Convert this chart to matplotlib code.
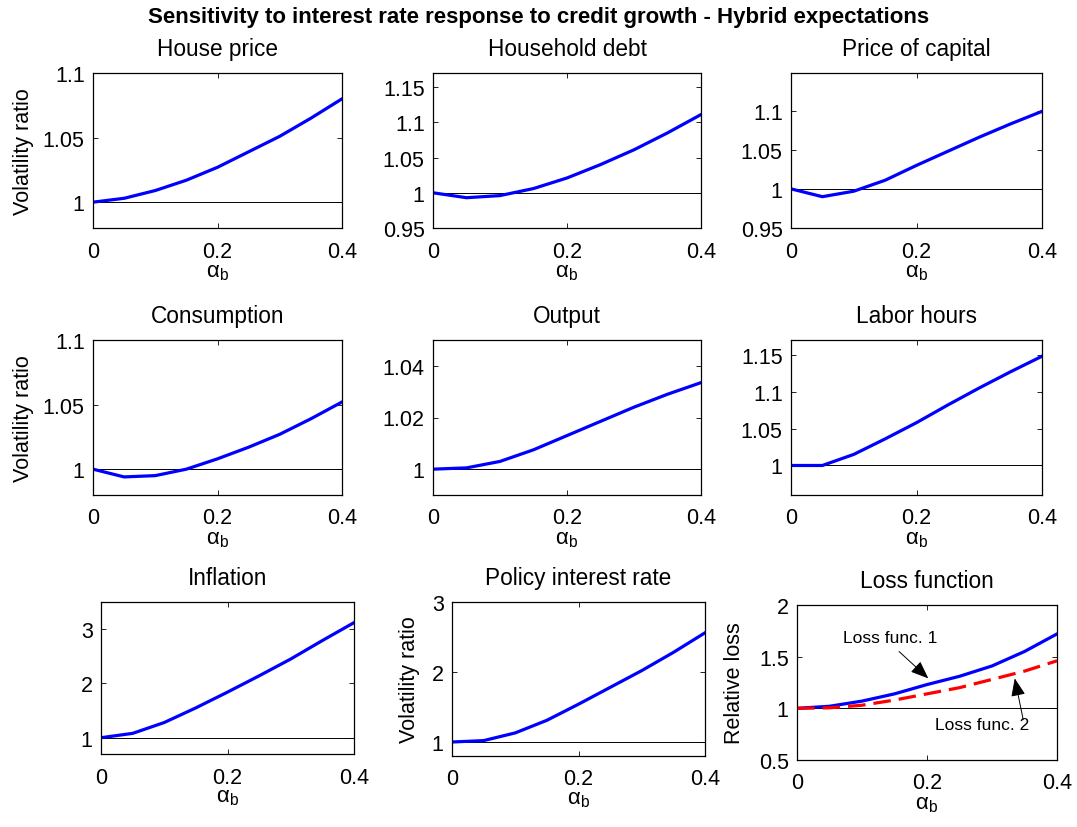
import matplotlib
matplotlib.use('Agg')
import matplotlib.pyplot as plt
from matplotlib.ticker import FuncFormatter
from matplotlib.patches import ArrowStyle

plt.rcParams['font.family'] = ['Liberation Sans', 'DejaVu Sans']
plt.rcParams['mathtext.fontset'] = 'custom'
plt.rcParams['mathtext.rm'] = 'Liberation Sans'
plt.rcParams['mathtext.it'] = 'Liberation Sans:italic'
plt.rcParams['mathtext.default'] = 'regular'

# alpha_b grid
alpha_b = [0.0, 0.05, 0.1, 0.15, 0.2, 0.25, 0.3, 0.35, 0.4]

# volatility ratios
house_price = [1.000, 1.003, 1.009, 1.017, 1.027, 1.039, 1.051, 1.065, 1.080]
household_debt = [1.000, 0.993, 0.996, 1.006, 1.021, 1.040, 1.061, 1.085, 1.111]
price_capital = [1.000, 0.990, 0.997, 1.011, 1.030, 1.048, 1.066, 1.083, 1.099]
consumption = [1.000, 0.994, 0.995, 1.000, 1.008, 1.017, 1.027, 1.039, 1.052]
output = [1.000, 1.0005, 1.003, 1.0075, 1.013, 1.0185, 1.024, 1.029, 1.0335]
labor_hours = [1.000, 1.000, 1.015, 1.036, 1.058, 1.082, 1.105, 1.127, 1.148]
inflation = [1.00, 1.08, 1.28, 1.55, 1.84, 2.14, 2.45, 2.79, 3.12]
policy_rate = [1.00, 1.02, 1.13, 1.31, 1.54, 1.78, 2.02, 2.28, 2.56]

# relative losses
loss_func1 = [1.00, 1.02, 1.07, 1.14, 1.23, 1.31, 1.41, 1.55, 1.72]
loss_func2 = [1.00, 1.005, 1.03, 1.08, 1.14, 1.20, 1.28, 1.36, 1.46]

titles = ['House price', 'Household debt', 'Price of capital',
          'Consumption', 'Output', 'Labor hours',
          'Inflation', 'Policy interest rate', 'Loss function']
series = [house_price, household_debt, price_capital,
          consumption, output, labor_hours,
          inflation, policy_rate, loss_func1]

# axis limits and ticks per panel
ylims = [(0.98, 1.1), (0.95, 1.17), (0.95, 1.148),
         (0.98, 1.1), (0.99, 1.05), (0.96, 1.17),
         (0.7, 3.5), (0.8, 3.0), (0.5, 2.0)]
yticks = [[1, 1.05, 1.1], [0.95, 1, 1.05, 1.1, 1.15], [0.95, 1, 1.05, 1.1],
          [1, 1.05, 1.1], [1, 1.02, 1.04], [1, 1.05, 1.1, 1.15],
          [1, 2, 3], [1, 2, 3], [0.5, 1, 1.5, 2]]
ylabels = ['Volatility ratio', '', '', 'Volatility ratio', '', '',
           '', 'Volatility ratio', 'Relative loss']

W, H = 1077, 828
# axes boxes in pixels: left, right, top, bottom
boxes = [(93, 342, 74, 229), (433, 701, 74, 229), (791, 1042, 74, 229),
         (93, 342, 341, 496), (433, 701, 341, 496), (791, 1042, 341, 496),
         (101, 354, 603, 755), (452, 705, 603, 757), (797, 1057, 606, 761)]
ylabel_x = [-0.235, 0, 0, -0.235, 0, 0, 0, -0.126, -0.2]

fig = plt.figure(figsize=(W / 100, H / 100), dpi=100)
fmt = FuncFormatter(lambda v, p: '%g' % v)

axes = []
for i in range(9):
    l, r, t, b = boxes[i]
    ax = fig.add_axes([l / W, 1 - b / H, (r - l) / W, (b - t) / H])
    ax.plot([0, 0.4], [1, 1], color='k', lw=0.7)
    ax.plot(alpha_b, series[i], color=(0, 0, 1), lw=2.3)
    ax.set_xlim(0, 0.4)
    ax.set_ylim(ylims[i])
    ax.set_xticks([0, 0.2, 0.4])
    ax.set_yticks(yticks[i])
    ax.xaxis.set_major_formatter(fmt)
    ax.yaxis.set_major_formatter(fmt)
    ax.tick_params(direction='in', top=True, right=True, length=3.5, width=0.6,
                   labelsize=15.5, pad=6)
    ax.tick_params(axis='x', pad=9)
    for s in ax.spines.values():
        s.set_linewidth(0.9)
    ax.set_title(titles[i], fontsize=16.3, pad=13)
    ax.set_xlabel(r'$\alpha_b$', fontsize=16)
    ax.xaxis.set_label_coords(0.5, -0.21)
    if ylabels[i]:
        ax.set_ylabel(ylabels[i], fontsize=15.5)
        ax.yaxis.set_label_coords(ylabel_x[i], 0.5)
    axes.append(ax)

ax = axes[8]
ax.plot(alpha_b, loss_func2, color=(1, 0, 0), lw=2.3, ls=(0, (5.5, 2.5)))

head = ArrowStyle('-|>', head_length=0.55, head_width=0.22)
ax.text(0.071, 1.69, 'Loss func. 1', fontsize=12.5, va='center', ha='left')
ax.annotate('', xy=(0.202, 1.29), xytext=(0.157, 1.55),
            arrowprops=dict(arrowstyle=head, color='k', lw=0.7,
                            mutation_scale=20, shrinkA=0, shrinkB=0))
ax.text(0.212, 0.84, 'Loss func. 2', fontsize=12.5, va='center', ha='left')
ax.annotate('', xy=(0.335, 1.29), xytext=(0.348, 0.89),
            arrowprops=dict(arrowstyle=head, color='k', lw=0.7,
                            mutation_scale=20, shrinkA=0, shrinkB=0))

fig.text(0.5, 1 - 17 / H, 'Sensitivity to interest rate response to credit growth - Hybrid expectations',
         ha='center', va='center', fontsize=16, fontweight='bold')

fig.savefig('out.png', dpi=100)
